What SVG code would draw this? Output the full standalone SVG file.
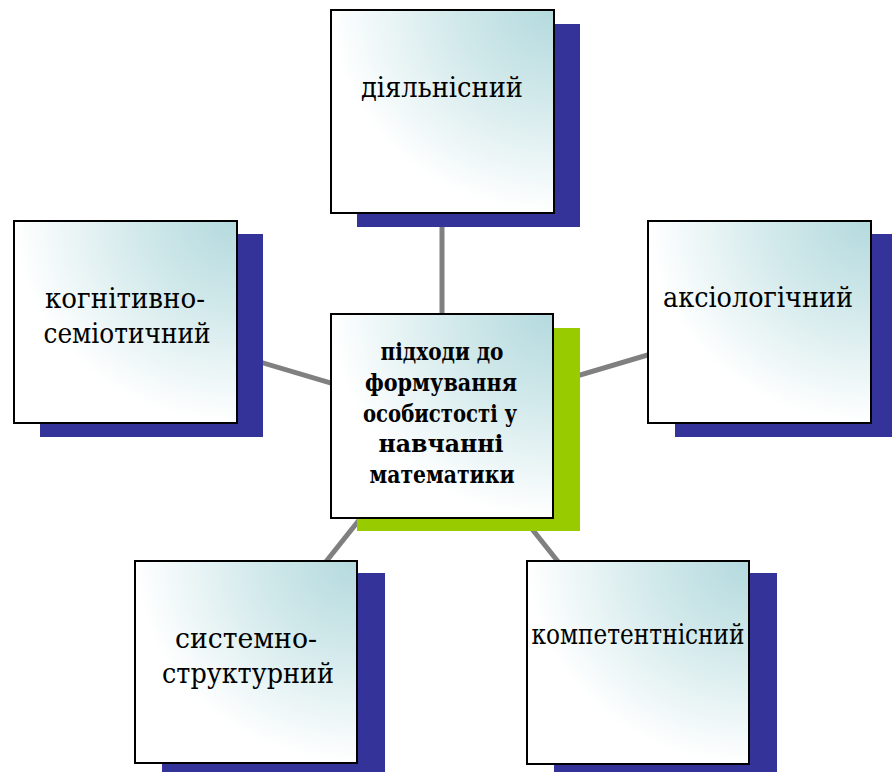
<svg xmlns="http://www.w3.org/2000/svg" width="892" height="772" viewBox="0 0 892 772">
<defs>
<radialGradient id="g" cx="1" cy="0" r="1.05" fx="1" fy="0">
<stop offset="0" stop-color="#B4DADE"/>
<stop offset="0.4" stop-color="#D0E8EA"/>
<stop offset="0.95" stop-color="#FFFFFF"/>
<stop offset="1" stop-color="#FFFFFF"/>
</radialGradient>
</defs>
<style>
.sh{fill:#333399}
.shc{fill:#99CC00}
.box{fill:url(#g);stroke:#000;stroke-width:2}
.t{font-family:"DejaVu Serif","Liberation Serif",serif;font-size:28px;fill:#000;text-anchor:middle}
.tc{font-family:"DejaVu Serif","Liberation Serif",serif;font-size:24px;font-weight:bold;fill:#000;text-anchor:middle}
.c{stroke:#808080;stroke-width:5;fill:none}
</style>
<rect width="892" height="772" fill="#fff"/>
<g id="connectors">
<line class="c" x1="442" y1="416" x2="442" y2="112"/>
<line class="c" x1="442" y1="416" x2="125" y2="322"/>
<line class="c" x1="442" y1="416" x2="759" y2="322"/>
<line class="c" x1="442" y1="416" x2="246" y2="662"/>
<line class="c" x1="442" y1="416" x2="638" y2="662"/>
</g>
<g id="n-top">
<rect class="sh" x="357" y="24" width="223" height="203"/>
<rect class="box" x="331" y="10" width="223" height="203"/>
<text class="t" x="442" y="97" textLength="162" lengthAdjust="spacingAndGlyphs">діяльнісний</text>
</g>
<g id="n-left">
<rect class="sh" x="40" y="234" width="223" height="203"/>
<rect class="box" x="14" y="221" width="223" height="202"/>
<text class="t" x="125" y="308" textLength="160" lengthAdjust="spacingAndGlyphs">когнітивно-</text>
<text class="t" x="127" y="343" textLength="167" lengthAdjust="spacingAndGlyphs">семіотичний</text>
</g>
<g id="n-right">
<rect class="sh" x="675" y="234" width="223" height="203"/>
<rect class="box" x="648" y="221" width="223" height="202"/>
<text class="t" x="758" y="307" textLength="190" lengthAdjust="spacingAndGlyphs">аксіологічний</text>
</g>
<g id="n-bl">
<rect class="sh" x="162" y="573" width="223" height="203"/>
<rect class="box" x="135" y="561" width="222" height="202"/>
<text class="t" x="246" y="648" textLength="142" lengthAdjust="spacingAndGlyphs">системно-</text>
<text class="t" x="248" y="683" textLength="172" lengthAdjust="spacingAndGlyphs">структурний</text>
</g>
<g id="n-br">
<rect class="sh" x="554" y="573" width="223" height="203"/>
<rect class="box" x="527" y="561" width="222" height="203"/>
<text class="t" x="638" y="644" textLength="213" lengthAdjust="spacingAndGlyphs">компетентнісний</text>
</g>
<g id="n-center">
<rect class="shc" x="357" y="328" width="223" height="203"/>
<rect class="box" x="331" y="314" width="222" height="204"/>
<text class="tc" x="442" y="360" textLength="123" lengthAdjust="spacingAndGlyphs">підходи до</text>
<text class="tc" x="441" y="391" textLength="152" lengthAdjust="spacingAndGlyphs">формування</text>
<text class="tc" x="440" y="422" textLength="154" lengthAdjust="spacingAndGlyphs">особистості у</text>
<text class="tc" x="441" y="452" textLength="125" lengthAdjust="spacingAndGlyphs">навчанні</text>
<text class="tc" x="442" y="483" textLength="145" lengthAdjust="spacingAndGlyphs">математики</text>
</g>
</svg>
